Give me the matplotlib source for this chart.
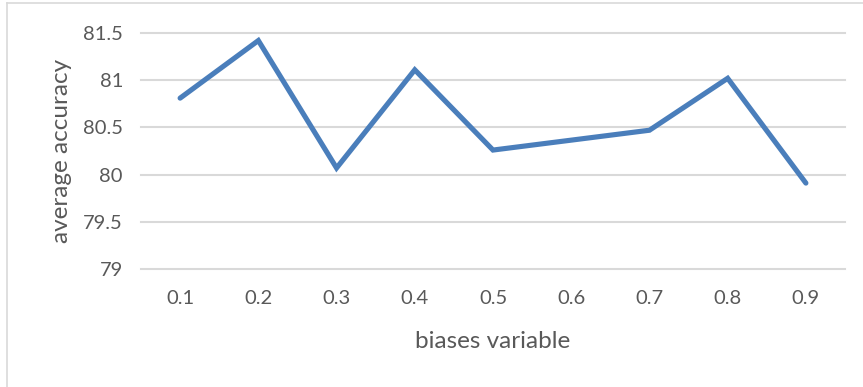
import matplotlib
matplotlib.use("Agg")
import matplotlib.pyplot as plt
from matplotlib.lines import Line2D

categories = ["0.1", "0.2", "0.3", "0.4", "0.5", "0.6", "0.7", "0.8", "0.9"]
accuracy = [80.81, 81.42, 80.07, 81.11, 80.26, 80.365, 80.47, 81.02, 79.91]
y_ticks = [79, 79.5, 80, 80.5, 81, 81.5]
y_tick_labels = ["79", "79.5", "80", "80.5", "81", "81.5"]

W, H = 863, 387
fig = plt.figure(figsize=(W / 100, H / 100), dpi=100)
plt.rcParams['font.family'] = ['Lato', 'DejaVu Sans']

text_col = '#595959'
grid_col = '#d9d9d9'

left, right, top, bottom = 141, 845, 33, 269
ax = fig.add_axes([left / W, 1 - bottom / H, (right - left) / W, (bottom - top) / H])

x = list(range(len(categories)))
ax.plot(x, accuracy, color='#4a7ebb', linewidth=3.7, solid_joinstyle='miter',
        solid_capstyle='round', zorder=3)

ax.set_xlim(-0.5, len(categories) - 0.5)
ax.set_ylim(79, 81.5)
ax.set_yticks(y_ticks)
ax.set_yticklabels(y_tick_labels)
ax.set_xticks(x)
ax.set_xticklabels(categories)
for s in ax.spines.values():
    s.set_visible(False)
ax.yaxis.grid(True, color=grid_col, linewidth=1.5)
ax.set_axisbelow(True)
ax.tick_params(axis='both', length=0, labelsize=14.5, colors=text_col)
ax.tick_params(axis='x', pad=15)
ax.tick_params(axis='y', pad=13)
for gl in ax.get_ygridlines():
    gl.set_clip_on(False)

fig.text(493 / W, 1 - 342 / H, "biases variable", ha='center', va='center',
         fontsize=17.5, color=text_col)
fig.text(62 / W, 1 - 151 / H, "average accuracy", ha='center', va='center',
         rotation=90, fontsize=17.5, color=text_col)

# chart border
fig.add_artist(Line2D([7 / W, 7 / W], [0, 1 - 3 / H], color=grid_col, linewidth=1.2,
                      transform=fig.transFigure))
fig.add_artist(Line2D([7 / W, 1], [1 - 3 / H, 1 - 3 / H], color=grid_col, linewidth=1.2,
                      transform=fig.transFigure))

fig.savefig("out.png", dpi=100, facecolor='white')
